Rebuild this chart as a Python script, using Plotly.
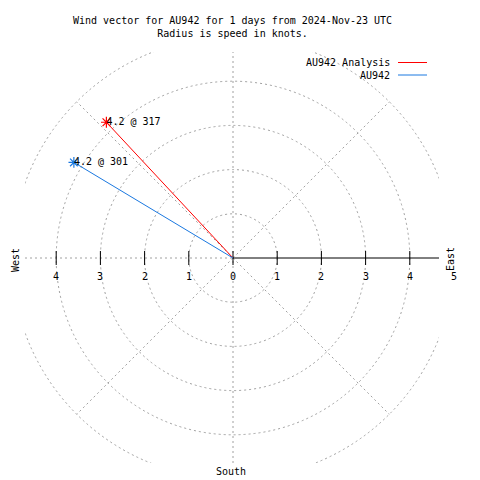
import numpy as np
import plotly.graph_objects as go

# ---- data ----
series_names = ["AU942 Analysis", "AU942"]
speeds = [4.2, 4.2]            # knots
directions = [317, 301]        # degrees (compass)
series_colors = ["#ff0000", "#1a78e0"]

ring_radii = [1, 2, 3, 4, 5]
spoke_angles = [45, 135, 225, 315]
tick_vals = [-4, -3, -2, -1, 0, 1, 2, 3, 4, 5]
tick_text = ["4", "3", "2", "1", "0", "1", "2", "3", "4", "5"]

title_text = "Wind vector for AU942 for 1 days from 2024-Nov-23 UTC<br>Radius is speed in knots."

# ---- geometry (pixels) ----
W = H = 480
L, R, T, B = 25, 439, 52, 463
CX, CY = 233, 258
S = 44.2

xr = [(L - CX) / S, (R - CX) / S]
yr = [(CY - B) / S, (CY - T) / S]


def px(x):
    return (x - L) / (R - L)


def py(y):
    return (B - y) / (B - T)


FONT = "DejaVu Sans Mono"
GRID = "#a0a0a0"
DASH = "2px,3px"
gridline = dict(color=GRID, width=1, dash=DASH)
lab_font = dict(family=FONT, size=10, color="black")

fig = go.Figure()
shapes = []
for r in ring_radii:
    shapes.append(dict(type="circle", xref="x", yref="y", x0=-r, x1=r, y0=-r, y1=r,
                       line=gridline, layer="below"))
for a in spoke_angles:
    t = np.deg2rad(a)
    shapes.append(dict(type="line", xref="x", yref="y", x0=0, y0=0,
                       x1=ring_radii[-1] * np.sin(t), y1=ring_radii[-1] * np.cos(t),
                       line=gridline, layer="below"))
shapes.append(dict(type="line", xref="x", yref="y", x0=0, x1=0, y0=yr[0], y1=yr[1],
                   line=gridline, layer="below"))
shapes.append(dict(type="line", xref="x", yref="y", x0=xr[0], x1=0, y0=0, y1=0,
                   line=gridline, layer="below"))
shapes.append(dict(type="line", xref="x", yref="y", x0=0, x1=xr[1], y0=0, y1=0,
                   line=dict(color="black", width=1), layer="below"))

# tick marks on the horizontal axis
in_range = [v for v in tick_vals if xr[0] <= v <= xr[1]]
fig.add_trace(go.Scatter(x=in_range, y=[0] * len(in_range), mode="markers",
                         marker=dict(symbol="line-ns", size=10, color="black",
                                     line=dict(color="black", width=1)),
                         hoverinfo="skip", showlegend=False))

annotations = []
# tick labels; the one beyond the plotted range is placed in paper coordinates
for v, tt in zip(tick_vals, tick_text):
    if xr[0] <= v <= xr[1]:
        annotations.append(dict(text=tt, x=v, y=-18 / S, xref="x", yref="y",
                                xanchor="center", yanchor="middle", showarrow=False,
                                font=lab_font))
    else:
        annotations.append(dict(text=tt, x=px(CX + v * S), y=py(CY + 18),
                                xref="paper", yref="paper",
                                xanchor="center", yanchor="middle", showarrow=False,
                                font=lab_font))

# series
for name, spd, d, col in zip(series_names, speeds, directions, series_colors):
    th = np.deg2rad(d)
    xe, ye = spd * np.sin(th), spd * np.cos(th)
    fig.add_trace(go.Scatter(x=[0, xe], y=[0, ye], mode="lines",
                             line=dict(color=col, width=1), name=name, showlegend=False))
    fig.add_trace(go.Scatter(x=[xe], y=[ye], mode="markers",
                             marker=dict(symbol="asterisk-open", size=9, color=col,
                                         line=dict(color=col, width=1.2)),
                             showlegend=False, cliponaxis=False))
    fig.add_trace(go.Scatter(x=[xe], y=[ye], mode="text", text=[f"{spd} @ {d}"],
                             textposition="middle right",
                             textfont=lab_font,
                             showlegend=False, cliponaxis=False))

annotations += [
    dict(text=title_text, x=0.5, y=py(27), xref="paper", yref="paper",
         xanchor="center", yanchor="middle", showarrow=False, align="center",
         font=lab_font),
    dict(text="West", x=px(15), y=py(260), xref="paper", yref="paper", textangle=-90,
         xanchor="center", yanchor="middle", showarrow=False, font=lab_font),
    dict(text="East", x=px(450), y=py(259), xref="paper", yref="paper", textangle=-90,
         xanchor="center", yanchor="middle", showarrow=False, font=lab_font),
    dict(text="South", x=px(231), y=py(471), xref="paper", yref="paper",
         xanchor="center", yanchor="middle", showarrow=False, font=lab_font),
]

# legend (text left of sample line, gnuplot style)
leg_y = [62.5, 75]
for name, col, ly in zip(series_names, series_colors, leg_y):
    annotations.append(dict(text=name, x=px(392), y=py(ly), xref="paper", yref="paper",
                            xanchor="right", yanchor="middle", showarrow=False,
                            font=lab_font))
    shapes.append(dict(type="line", xref="paper", yref="paper", x0=px(398), x1=px(427),
                       y0=py(ly), y1=py(ly), line=dict(color=col, width=1)))

fig.update_layout(
    width=W, height=H, autosize=False,
    margin=dict(l=L, r=W - R, t=T, b=H - B, pad=0),
    plot_bgcolor="white", paper_bgcolor="white",
    xaxis=dict(range=xr, visible=False, fixedrange=True),
    yaxis=dict(range=yr, visible=False, fixedrange=True),
    shapes=shapes, annotations=annotations, showlegend=False,
)

fig.write_html("out.html", config={"displayModeBar": False, "staticPlot": True},
               post_script="document.body.style.margin='0px';document.body.style.overflow='hidden';")
